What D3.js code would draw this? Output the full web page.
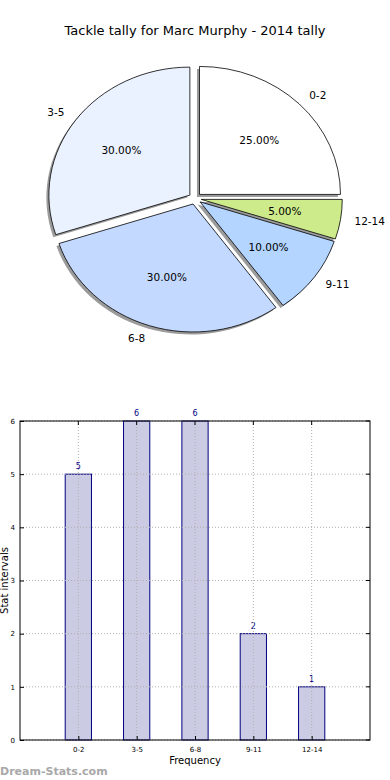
<!DOCTYPE html>
<html>
<head>
 <meta charset="UTF-8">
 <title>Tackle tally</title>
 <script src="https://d3js.org/d3.v7.min.js"></script>
 <style>
  body { margin: 0; background: #fff; }
  text { font-family: "DejaVu Sans", sans-serif; }
 </style>
</head>
<body>
<script type="text/javascript">
var categories = ["0-2", "3-5", "6-8", "9-11", "12-14"];
var counts = [5, 6, 6, 2, 1];
var pieOrder = ["0-2", "12-14", "9-11", "6-8", "3-5"];
var pieCounts = [5, 1, 2, 6, 6];
var pieColors = ["#ffffff", "#cdeb8b", "#b3d5ff", "#c3d9ff", "#ebf2ff"];
var yTicks = [0, 1, 2, 3, 4, 5, 6];

var svg = d3.select("body").append("svg")
  .attr("width", 390).attr("height", 780);

svg.append("text")
  .attr("x", 195).attr("y", 35)
  .attr("text-anchor", "middle")
  .style("font-size", "13px")
  .text("Tackle tally for Marc Murphy - 2014 tally");

// pie (elliptical, like an unequal-aspect matplotlib pie)
var cx = 195, cy = 198.5, rx = 141, ry = 128, explode = 0.045;
var total = d3.sum(pieCounts);
var arcs = d3.pie().sort(null)(pieCounts);
var arc = d3.arc().innerRadius(0).outerRadius(1);

var pie = svg.append("g");
arcs.forEach(function(d, i) {
  var mid = (d.startAngle + d.endAngle) / 2;
  var ox = Math.sin(mid) * rx * explode;
  var oy = -Math.cos(mid) * ry * explode;
  pie.append("path")
    .attr("d", arc(d))
    .attr("transform", "translate(" + (cx + ox - 2.5) + "," + (cy + oy + 2.5) + ") scale(" + rx + "," + ry + ")")
    .attr("fill", "#7a7a7a")
    .attr("opacity", 0.75);
});
arcs.forEach(function(d, i) {
  var mid = (d.startAngle + d.endAngle) / 2;
  var ox = Math.sin(mid) * rx * explode;
  var oy = -Math.cos(mid) * ry * explode;
  var px = cx + ox, py = cy + oy;
  pie.append("path")
    .attr("d", arc(d))
    .attr("transform", "translate(" + px + "," + py + ") scale(" + rx + "," + ry + ")")
    .attr("fill", pieColors[i])
    .attr("stroke", "#000")
    .attr("stroke-width", 0.8)
    .attr("vector-effect", "non-scaling-stroke");
  pie.append("text")
    .attr("x", px + Math.sin(mid) * rx * 1.1)
    .attr("y", py - Math.cos(mid) * ry * 1.1)
    .attr("dy", "0.35em")
    .attr("text-anchor", Math.sin(mid) > 0 ? "start" : "end")
    .style("font-size", "10.5px")
    .text(pieOrder[i]);
  pie.append("text")
    .attr("x", px + Math.sin(mid) * rx * 0.6)
    .attr("y", py - Math.cos(mid) * ry * 0.6)
    .attr("dy", "0.35em")
    .attr("text-anchor", "middle")
    .style("font-size", "10.5px")
    .text((pieCounts[i] / total * 100).toFixed(2) + "%");
});

// bar chart
var pLeft = 20, pRight = 370, pTop = 421, pBottom = 740;
var x = d3.scaleLinear().domain([-1, 5]).range([pLeft, pRight]);
var y = d3.scaleLinear().domain([0, 6]).range([pBottom, pTop]);
var bw = 0.45;

var bars = svg.append("g");
bars.selectAll("rect").data(counts).enter().append("rect")
  .attr("x", function(d, i) { return x(i - bw / 2); })
  .attr("y", function(d) { return y(d); })
  .attr("width", x(bw) - x(0))
  .attr("height", function(d) { return y(0) - y(d); })
  .attr("fill", "#cbcbe3")
  .attr("stroke", "#000080")
  .attr("stroke-width", 1);

bars.selectAll(".val").data(counts).enter().append("text")
  .attr("x", function(d, i) { return x(i); })
  .attr("y", function(d) { return y(d) - 5; })
  .attr("text-anchor", "middle")
  .attr("fill", "#000080")
  .style("font-size", "8px")
  .text(function(d) { return d; });

var grid = svg.append("g")
  .attr("stroke", "#b0b0b0")
  .attr("stroke-dasharray", "1,2")
  .attr("stroke-width", 1);
categories.forEach(function(c, i) {
  grid.append("line")
    .attr("x1", x(i)).attr("x2", x(i))
    .attr("y1", pTop).attr("y2", pBottom);
});
yTicks.forEach(function(t) {
  grid.append("line")
    .attr("x1", pLeft).attr("x2", pRight)
    .attr("y1", y(t)).attr("y2", y(t));
});

svg.append("rect")
  .attr("x", pLeft).attr("y", pTop)
  .attr("width", pRight - pLeft).attr("height", pBottom - pTop)
  .attr("fill", "none").attr("stroke", "#000").attr("stroke-width", 1);

var xAxis = svg.append("g")
  .attr("transform", "translate(0," + pBottom + ")")
  .call(d3.axisBottom(x).tickValues(d3.range(categories.length))
    .tickFormat(function(d) { return categories[d]; })
    .tickSizeInner(-4).tickSizeOuter(0).tickPadding(7));
xAxis.select(".domain").remove();
xAxis.selectAll("text").style("font-size", "7px");

var yAxis = svg.append("g")
  .attr("transform", "translate(" + pLeft + ",0)")
  .call(d3.axisLeft(y).tickValues(yTicks).tickFormat(d3.format("d"))
    .tickSizeInner(-4).tickSizeOuter(0).tickPadding(5));
yAxis.select(".domain").remove();
yAxis.selectAll("text").style("font-size", "7px");

// right/top ticks
svg.append("g").selectAll("line").data(yTicks).enter().append("line")
  .attr("x1", pRight).attr("x2", pRight - 4)
  .attr("y1", function(d) { return y(d); }).attr("y2", function(d) { return y(d); })
  .attr("stroke", "#000");
svg.append("g").selectAll("line").data(categories).enter().append("line")
  .attr("x1", function(d, i) { return x(i); }).attr("x2", function(d, i) { return x(i); })
  .attr("y1", pTop).attr("y2", pTop + 4)
  .attr("stroke", "#000");

svg.append("text")
  .attr("x", 195).attr("y", 764)
  .attr("text-anchor", "middle")
  .style("font-size", "10px")
  .text("Frequency");

svg.append("text")
  .attr("transform", "translate(7.5," + ((pTop + pBottom) / 2) + ") rotate(-90)")
  .attr("text-anchor", "middle")
  .style("font-size", "10px")
  .text("Stat intervals");

svg.append("text")
  .attr("x", 0).attr("y", 775)
  .attr("fill", "#a8a8a8")
  .style("font-size", "11px")
  .style("font-weight", "bold")
  .text("Dream-Stats.com");
</script>
</body>
</html>
